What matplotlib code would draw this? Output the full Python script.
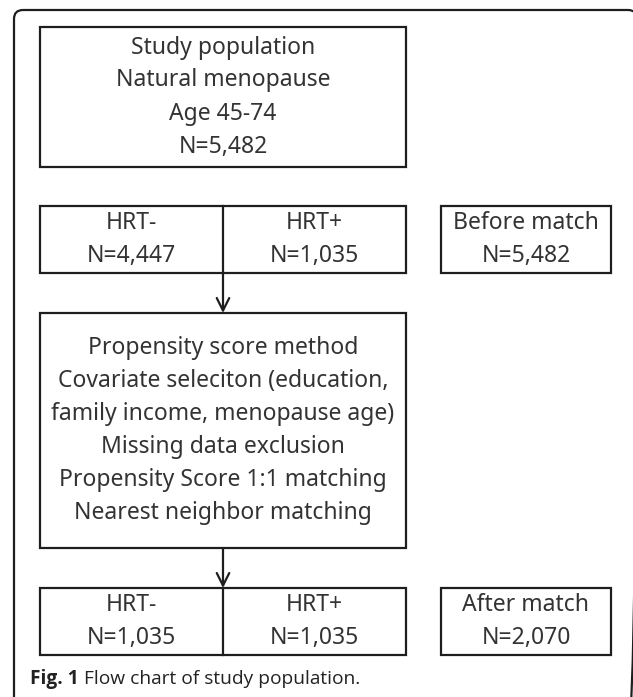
import matplotlib
matplotlib.use("Agg")
import matplotlib.pyplot as plt
from matplotlib.patches import Rectangle, FancyBboxPatch

# chart content
population_lines = ["Study population", "Natural menopause", "Age 45-74"]
population_n = 5482
groups = ["HRT-", "HRT+"]
before_n = [4447, 1035]
method_lines = ["Propensity score method",
                "Covariate seleciton (education,",
                "family income, menopause age)",
                "Missing data exclusion",
                "Propensity Score 1:1 matching",
                "Nearest neighbor matching"]
after_n = [1035, 1035]
before_label = "Before match"
after_label = "After match"
caption_bold = "Fig. 1"
caption_text = " Flow chart of study population."

W, H = 633, 697
fig = plt.figure(figsize=(W / 100, H / 100), dpi=100)
ax = fig.add_axes([0, 0, 1, 1])
ax.set_xlim(0, W)
ax.set_ylim(H, 0)
ax.axis("off")

edge = "#1e1e1e"
tcol = "#333333"
font = "Noto Sans"
fs = 16.5
line_h = 33
lw = 1.6


def box(x0, y0, x1, y1):
    ax.add_patch(Rectangle((x0, y0), x1 - x0, y1 - y0, fill=False,
                           edgecolor=edge, linewidth=lw))


def lines(xc, yc, texts):
    n = len(texts)
    for i, t in enumerate(texts):
        y = yc + (i - (n - 1) / 2) * line_h
        ax.text(xc, y, t, ha="center", va="center", fontsize=fs,
                color=tcol, family=font)


def arrow(x, y0, y1):
    ax.annotate("", xy=(x, y1), xytext=(x, y0),
                arrowprops=dict(arrowstyle="->,head_length=0.9,head_width=0.45",
                                color=edge, lw=lw, shrinkA=0, shrinkB=0))


# outer rounded frame (runs off the right and bottom edges)
ax.add_patch(FancyBboxPatch((14, 10), 623, 720,
                            boxstyle="round,pad=0,rounding_size=9",
                            fill=False, edgecolor=edge, linewidth=lw))

L, R, MID = 40, 406, 223
SL, SR = 441, 611

# top box
box(L, 27, R, 167)
lines((L + R) / 2, 97, population_lines + [f"N={population_n:,}"])

# before / after match rows
for y0, y1, ns, side in [(206, 273, before_n, before_label),
                         (588, 655, after_n, after_label)]:
    box(L, y0, R, y1)
    ax.plot([MID, MID], [y0, y1], color=edge, lw=lw)
    yc = (y0 + y1) / 2
    lines((L + MID) / 2, yc, [groups[0], f"N={ns[0]:,}"])
    lines((MID + R) / 2, yc, [groups[1], f"N={ns[1]:,}"])
    box(SL, y0, SR, y1)
    lines((SL + SR) / 2, yc, [side, f"N={sum(ns):,}"])

# method box
box(L, 313, R, 548)
lines((L + R) / 2, 430.5, method_lines)

arrow(MID, 273, 313)
arrow(MID, 548, 588)

# caption
cap_font = "Open Sans"
cap_fs = 13.8
t = ax.text(30, 679, caption_bold, ha="left", va="center", fontsize=cap_fs,
            fontweight="bold", color="#222222", family=cap_font)
fig.canvas.draw()
bb = t.get_window_extent()
x_end = ax.transData.inverted().transform((bb.x1, bb.y0))[0]
ax.text(x_end, 679, caption_text, ha="left", va="center", fontsize=cap_fs,
        color="#222222", family=cap_font)

fig.savefig("out.png", dpi=100)
